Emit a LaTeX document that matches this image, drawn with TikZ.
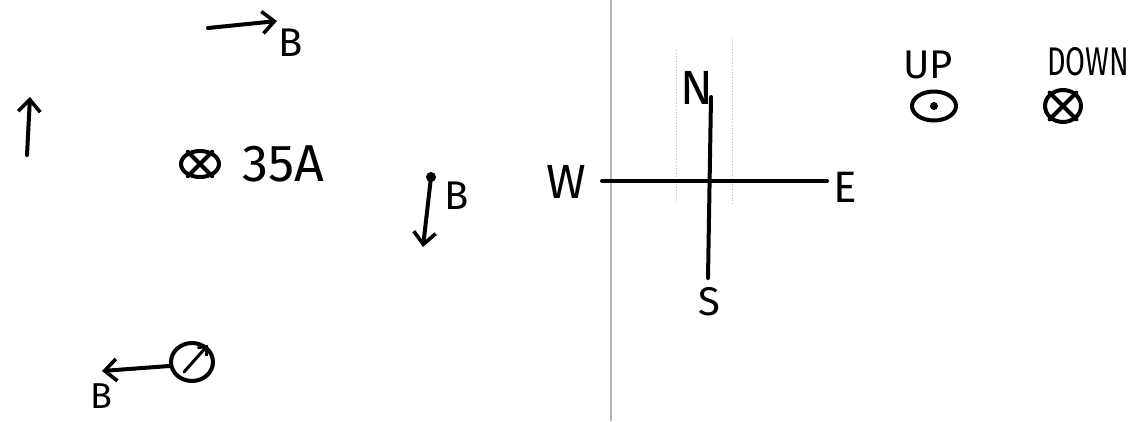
\documentclass[tikz,border=0pt]{standalone}
\usepackage{fontspec}
\setmainfont{Fira Sans}
\usetikzlibrary{arrows.meta,shapes.geometric}
\tikzset{
  ink/.style={line width=4pt, line cap=round, line join=round, black},
  arr/.style={ink, -{Straight Barb[length=12pt, width=22pt, line width=3.6pt]}},
  lbl/.style={font=\fontsize{40}{40}\selectfont, inner sep=0pt},
  biglbl/.style={font=\fontsize{52}{52}\selectfont, inner sep=0pt},
  cmp/.style={font=\fontsize{48}{48}\selectfont, inner sep=0pt},
  smalllbl/.style={font=\fontsize{40}{40}\selectfont, inner sep=0pt},
  sym/.style={ink, ellipse, draw, inner sep=0pt}
}
\begin{document}
\begin{tikzpicture}[x=1pt, y=-1pt]
\useasboundingbox (0,0) rectangle (1140,421);
% page fold line and faint guide lines
\coordinate (ft) at (611,0); \coordinate (fb) at (611,421);
\draw[gray!60, line width=1.5pt] (ft) -- (fb);
\coordinate (g1t) at (676,50); \coordinate (g1b) at (676,203);
\coordinate (g2t) at (732,38); \coordinate (g2b) at (732,205);
\draw[gray!50, line width=0.8pt, dotted] (g1t) -- (g1b);
\draw[gray!50, line width=0.8pt, dotted] (g2t) -- (g2b);
% upward arrow
\coordinate (u0) at (27,155); \coordinate (u1) at (30,97);
\draw[arr] (u0) -- (u1);
% top B arrow
\coordinate (t0) at (208,28); \coordinate (t1) at (277,21);
\draw[arr] (t0) -- (t1);
\node[lbl] (bt) at (291,43) {B};
% current into page
\node[sym, minimum width=38pt, minimum height=26pt] (cur) at (200,164) {};
\draw[ink] (cur.135) -- (cur.-45) (cur.45) -- (cur.-135);
\node[biglbl, anchor=west] (amp) at (242,164) {35A};
% downward B arrow
\coordinate (d0) at (431,177); \coordinate (d1) at (423,247);
\fill (d0) circle (5pt);
\draw[arr] (d0) -- (d1);
\node[lbl] (bd) at (457,196) {B};
% bottom-left circle with arrow
\node[sym, minimum width=42pt, minimum height=38pt] (wire) at (192,362) {};
\coordinate (wi0) at (184,372); \coordinate (wi1) at (208,345);
\draw[ink, line width=3pt, -{Straight Barb[length=7pt, width=12pt, line width=2.8pt]}] (wi0) -- (wi1);
\coordinate (bl1) at (102,371);
\draw[arr] (wire.190) -- (bl1);
\node[lbl, font=\fontsize{36}{36}\selectfont] (bb) at (101,396) {B};
% compass
\coordinate (cw) at (602,181); \coordinate (ce) at (827,181);
\coordinate (cn) at (711,97); \coordinate (cs) at (708,278);
\draw[ink] (cw) -- (ce);
\draw[ink] (cn) -- (cs);
\node[cmp] (ln) at (697,88) {N};
\node[cmp] (lw) at (566,182) {W};
\node[cmp, font=\fontsize{44}{44}\selectfont] (le) at (845,187) {E};
\node[cmp, font=\fontsize{40}{40}\selectfont] (ls) at (709,302) {S};
% legend
\node[smalllbl] (up) at (928,65) {UP};
\node[sym, minimum width=44pt, minimum height=29pt] (upc) at (934,106) {};
\fill (upc.center) circle (4pt);
\node[smalllbl, xscale=0.72] (down) at (1088,62) {DOWN};
\node[sym, minimum width=36pt, minimum height=32pt] (dnc) at (1063,106) {};
\draw[ink] (dnc.135) -- (dnc.-45) (dnc.45) -- (dnc.-135);
\end{tikzpicture}
\end{document}
